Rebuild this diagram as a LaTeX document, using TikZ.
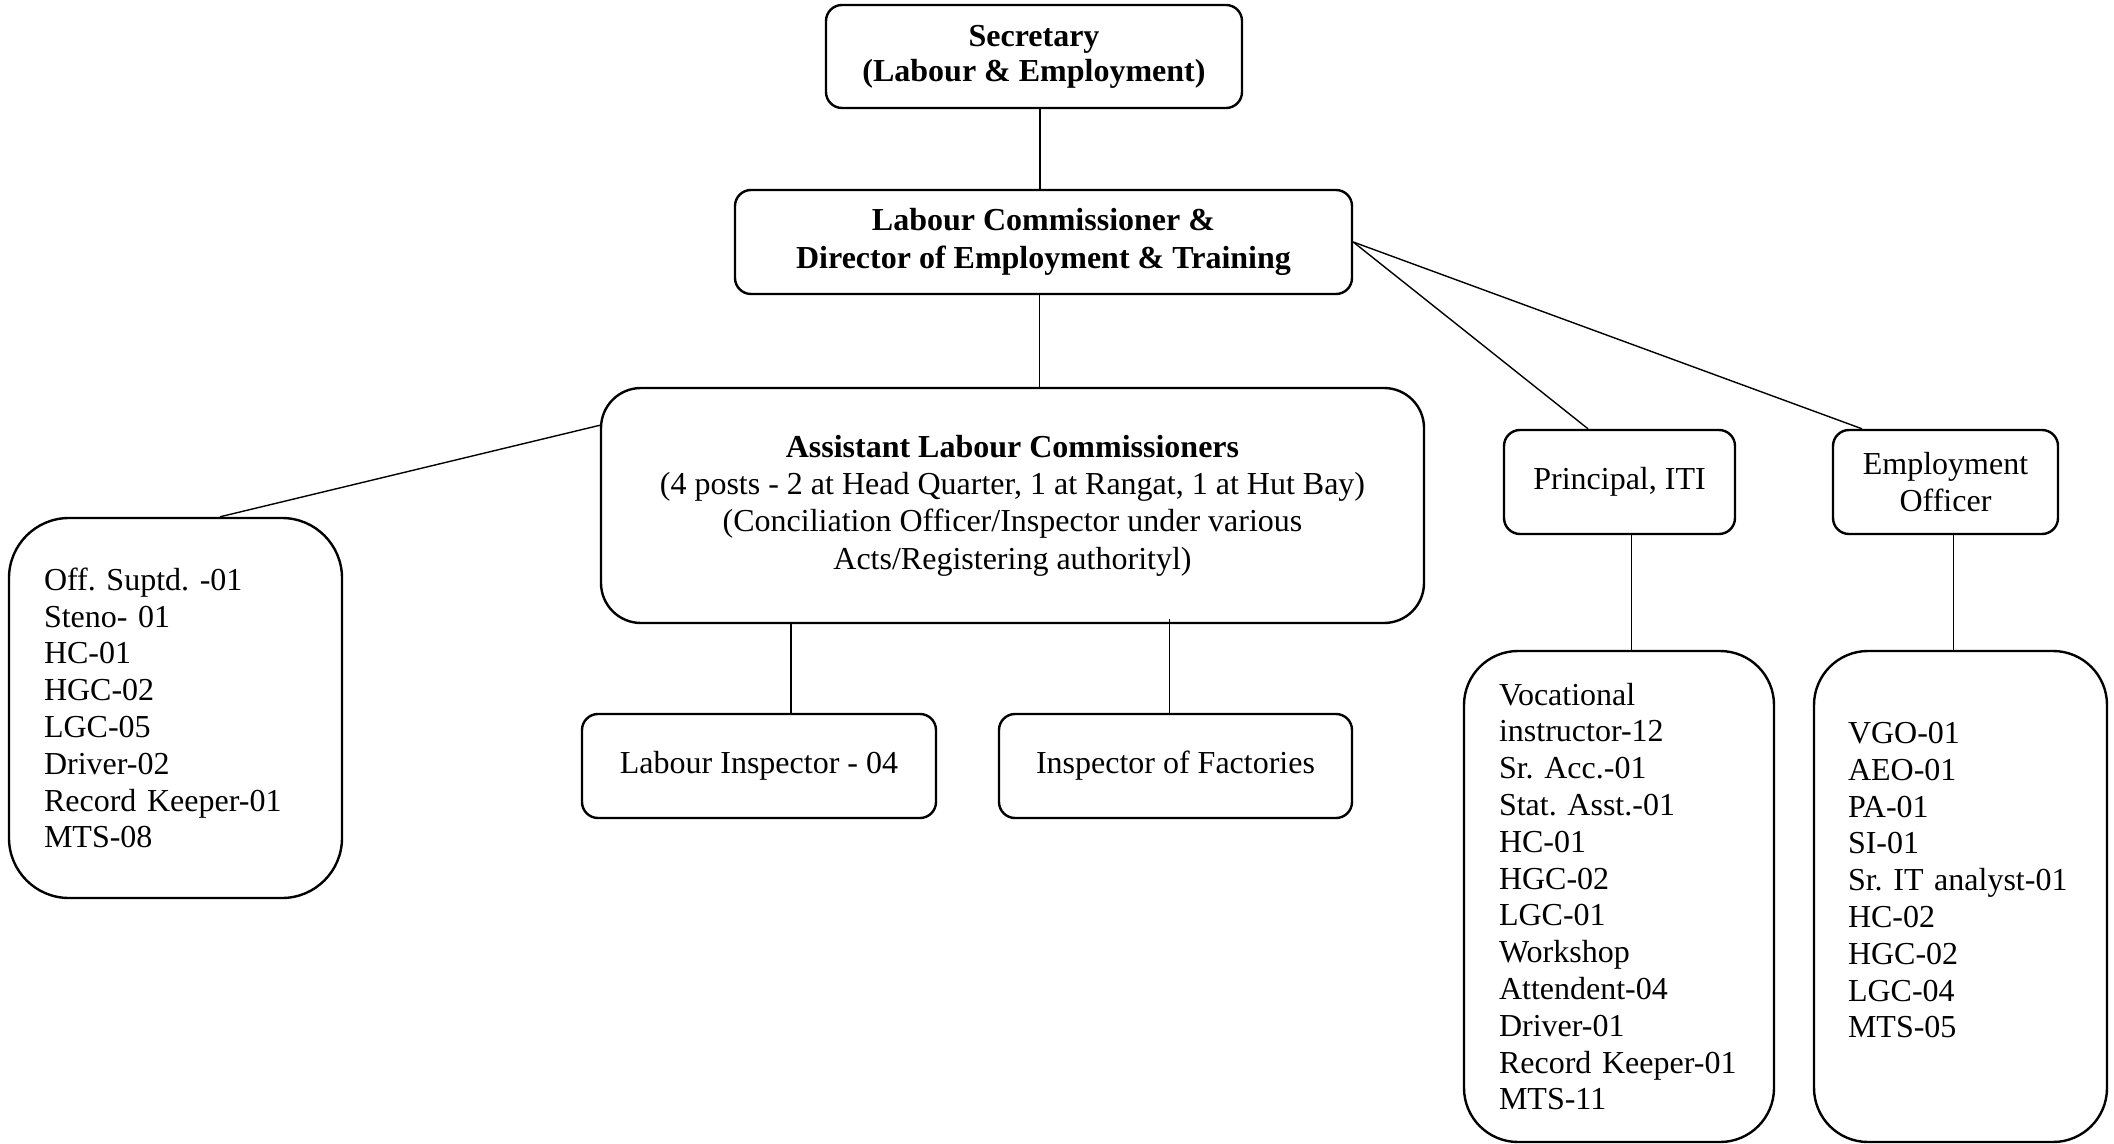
\documentclass[tikz,border=0pt]{standalone}
\usepackage{fontspec}
\setmainfont{Liberation Serif}
\usetikzlibrary{calc}
\frenchspacing
\tikzset{
  post/.style={draw, line width=1.2pt, rounded corners=8pt, align=center, inner sep=0pt,
    font=\fontsize{16}{18.7}\selectfont},
  staff/.style={draw, line width=1.2pt, rounded corners=27pt, align=left, inner ysep=0pt,
    font=\fontsize{16}{18.4}\selectfont},
  link/.style={line width=0.7pt}
}
\begin{document}
\begin{tikzpicture}[x=0.5pt,y=-0.5pt]
  \useasboundingbox (0,0) rectangle (2114,1144);
  \node[post, minimum width=208pt, minimum height=51.5pt, font=\fontsize{16}{17.5}\selectfont\bfseries]
    (sec) at (1034,56.5) {Secretary\\(Labour \& Employment)};
  \node[post, minimum width=308.5pt, minimum height=52pt, font=\fontsize{16}{18.9}\selectfont\bfseries]
    (lc) at (1043.5,242) {Labour Commissioner \&\\Director of Employment \& Training};
  \node[post, rounded corners=20pt, minimum width=411.5pt, minimum height=117.5pt]
    (alc) at (1012.5,505.5) {\textbf{Assistant Labour Commissioners}\\
      (4 posts - 2 at Head Quarter, 1 at Rangat, 1 at Hut Bay)\\
      (Conciliation Officer/Inspector under various\\
      Acts/Registering authorityl)};
  \node[post, minimum width=177pt, minimum height=52pt] (li) at (759,766) {Labour Inspector - 04};
  \node[post, minimum width=176.5pt, minimum height=52pt] (iof) at (1175.5,766) {Inspector of Factories};
  \node[post, minimum width=115.5pt, minimum height=52pt] (iti) at (1619.5,482) {Principal, ITI};
  \node[post, minimum width=112.5pt, minimum height=52pt, font=\fontsize{16}{18.9}\selectfont]
    (eo) at (1945.5,482) {Employment\\Officer};
  \node[staff, rounded corners=30pt, inner xsep=17.5pt, text width=131.5pt, minimum height=190pt]
    (staffA) at (175.5,708) {Off. Suptd. -01\\Steno- 01\\HC-01\\HGC-02\\LGC-05\\Driver-02\\Record Keeper-01\\MTS-08};
  \node[staff, inner xsep=17.5pt, text width=120pt, minimum height=245.5pt]
    (staffI) at (1619,896.5) {Vocational\\instructor-12\\Sr. Acc.-01\\Stat. Asst.-01\\HC-01\\HGC-02\\LGC-01\\Workshop\\Attendent-04\\Driver-01\\Record Keeper-01\\MTS-11};
  \node[staff, inner xsep=17pt, text width=112.5pt, minimum height=245.5pt]
    (staffE) at (1960.5,896.5) {VGO-01\\AEO-01\\PA-01\\SI-01\\Sr. IT analyst-01\\HC-02\\HGC-02\\LGC-04\\MTS-05\\[-2pt]\mbox{}};
  \draw[link] ([xshift=3pt]sec.south) -- ([xshift=3pt]sec.south |- lc.north);
  \draw[link] ([xshift=-2pt]lc.south) -- ([xshift=-2pt]lc.south |- alc.north);
  \draw[link] (alc.169.7) -- ($(staffA.north)+(44.5,0)$);
  \draw[link] (lc.east) -- ($(iti.north)+(-31.5,0)$);
  \draw[link] (lc.east) -- ($(eo.north)+(-83.5,0)$);
  \draw[link] ([xshift=16pt]li.north) -- ([xshift=16pt]li.north |- alc.south);
  \draw[link] ([xshift=-3pt]iof.north) -- ++(0,-94);
  \draw[link] ([xshift=6pt]iti.south) -- ([xshift=6pt]iti.south |- staffI.north);
  \draw[link] ([xshift=4pt]eo.south) -- ([xshift=4pt]eo.south |- staffE.north);
\end{tikzpicture}
\end{document}
